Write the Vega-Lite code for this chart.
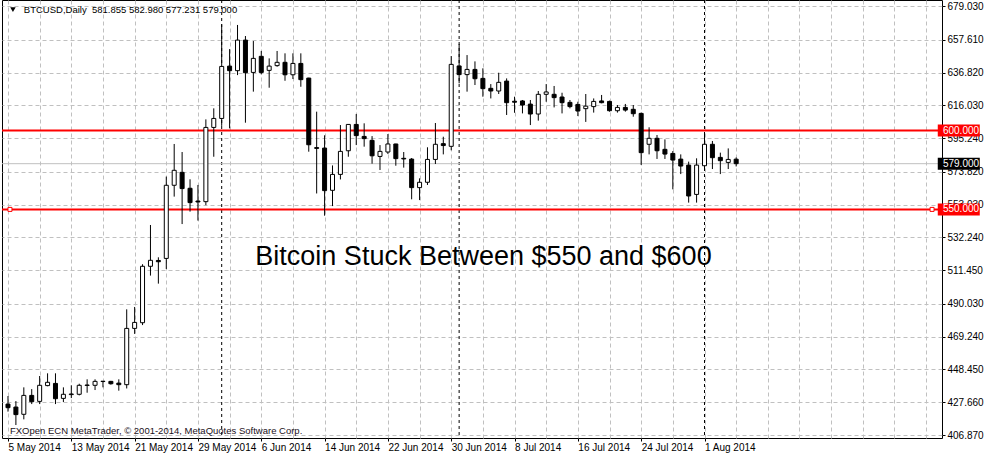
{
  "$schema": "https://vega.github.io/schema/vega-lite/v6.json",
  "width": 940,
  "height": 438,
  "autosize": {"type": "none"},
  "padding": {"left": 2, "top": 0, "right": 43, "bottom": 18},
  "background": "white",
  "config": {
    "view": {"stroke": "black", "strokeWidth": 1},
    "axis": {"labelFont": "Liberation Sans", "labelFontSize": 10, "labelColor": "black", "tickColor": "black", "titleFont": "Liberation Sans"}
  },
  "datasets": {
    "candles": [
      {"date": "2014-05-05", "open": 426.5, "high": 431.6, "low": 421.7, "close": 424.2},
      {"date": "2014-05-06", "open": 424.6, "high": 428.4, "low": 413.2, "close": 419.8},
      {"date": "2014-05-07", "open": 420.0, "high": 437.1, "low": 416.8, "close": 432.0},
      {"date": "2014-05-08", "open": 432.0, "high": 436.0, "low": 426.5, "close": 428.0},
      {"date": "2014-05-09", "open": 428.2, "high": 444.3, "low": 426.5, "close": 438.4},
      {"date": "2014-05-10", "open": 438.2, "high": 446.0, "low": 437.8, "close": 440.3},
      {"date": "2014-05-11", "open": 439.6, "high": 446.0, "low": 426.5, "close": 429.9},
      {"date": "2014-05-12", "open": 430.1, "high": 437.1, "low": 427.8, "close": 432.7},
      {"date": "2014-05-13", "open": 432.5, "high": 438.4, "low": 430.3, "close": 432.9},
      {"date": "2014-05-14", "open": 432.7, "high": 439.4, "low": 432.0, "close": 438.4},
      {"date": "2014-05-15", "open": 438.3, "high": 442.2, "low": 433.7, "close": 438.6},
      {"date": "2014-05-16", "open": 438.4, "high": 442.2, "low": 435.4, "close": 440.9},
      {"date": "2014-05-17", "open": 440.8, "high": 441.1, "low": 437.1, "close": 441.0},
      {"date": "2014-05-18", "open": 440.9, "high": 441.2, "low": 438.8, "close": 439.4},
      {"date": "2014-05-19", "open": 439.8, "high": 442.2, "low": 435.0, "close": 438.8},
      {"date": "2014-05-20", "open": 438.8, "high": 486.6, "low": 436.4, "close": 474.5},
      {"date": "2014-05-21", "open": 474.5, "high": 488.1, "low": 471.0, "close": 478.3},
      {"date": "2014-05-22", "open": 478.1, "high": 515.2, "low": 476.6, "close": 513.9},
      {"date": "2014-05-23", "open": 513.9, "high": 540.1, "low": 508.0, "close": 517.7},
      {"date": "2014-05-24", "open": 517.6, "high": 519.6, "low": 502.9, "close": 516.8},
      {"date": "2014-05-25", "open": 518.9, "high": 570.8, "low": 512.2, "close": 565.3},
      {"date": "2014-05-26", "open": 565.3, "high": 591.5, "low": 558.1, "close": 574.8},
      {"date": "2014-05-27", "open": 573.5, "high": 586.4, "low": 540.7, "close": 563.2},
      {"date": "2014-05-28", "open": 563.4, "high": 569.1, "low": 548.6, "close": 554.3},
      {"date": "2014-05-29", "open": 555.3, "high": 565.5, "low": 542.9, "close": 554.7},
      {"date": "2014-05-30", "open": 554.9, "high": 607.1, "low": 552.7, "close": 602.0},
      {"date": "2014-05-31", "open": 602.0, "high": 614.1, "low": 583.4, "close": 607.7},
      {"date": "2014-06-01", "open": 607.7, "high": 667.4, "low": 603.0, "close": 640.7},
      {"date": "2014-06-02", "open": 640.9, "high": 651.7, "low": 601.4, "close": 638.0},
      {"date": "2014-06-03", "open": 638.0, "high": 667.0, "low": 635.2, "close": 657.4},
      {"date": "2014-06-04", "open": 657.4, "high": 660.0, "low": 605.0, "close": 636.7},
      {"date": "2014-06-05", "open": 636.9, "high": 656.8, "low": 624.7, "close": 645.8},
      {"date": "2014-06-06", "open": 647.1, "high": 650.5, "low": 635.7, "close": 636.9},
      {"date": "2014-06-07", "open": 638.2, "high": 645.8, "low": 627.2, "close": 640.9},
      {"date": "2014-06-08", "open": 641.2, "high": 650.5, "low": 640.5, "close": 643.3},
      {"date": "2014-06-09", "open": 643.3, "high": 649.0, "low": 631.6, "close": 635.4},
      {"date": "2014-06-10", "open": 635.4, "high": 649.0, "low": 632.7, "close": 642.6},
      {"date": "2014-06-11", "open": 642.6, "high": 649.0, "low": 627.8, "close": 632.3},
      {"date": "2014-06-12", "open": 633.3, "high": 633.5, "low": 586.6, "close": 591.0},
      {"date": "2014-06-13", "open": 589.2, "high": 612.0, "low": 560.1, "close": 588.7},
      {"date": "2014-06-14", "open": 588.9, "high": 597.0, "low": 546.0, "close": 561.9},
      {"date": "2014-06-15", "open": 562.1, "high": 577.9, "low": 552.1, "close": 572.2},
      {"date": "2014-06-16", "open": 572.2, "high": 603.5, "low": 569.0, "close": 586.8},
      {"date": "2014-06-17", "open": 587.2, "high": 604.0, "low": 583.4, "close": 603.9},
      {"date": "2014-06-18", "open": 603.9, "high": 610.5, "low": 590.8, "close": 596.8},
      {"date": "2014-06-19", "open": 596.3, "high": 604.6, "low": 589.8, "close": 594.9},
      {"date": "2014-06-20", "open": 593.8, "high": 596.5, "low": 579.0, "close": 584.0},
      {"date": "2014-06-21", "open": 583.6, "high": 590.8, "low": 575.0, "close": 586.8},
      {"date": "2014-06-22", "open": 586.4, "high": 597.8, "low": 585.1, "close": 591.5},
      {"date": "2014-06-23", "open": 591.5, "high": 591.6, "low": 577.7, "close": 582.2},
      {"date": "2014-06-24", "open": 582.4, "high": 586.4, "low": 576.5, "close": 582.0},
      {"date": "2014-06-25", "open": 581.9, "high": 582.6, "low": 556.4, "close": 563.8},
      {"date": "2014-06-26", "open": 563.8, "high": 569.7, "low": 555.9, "close": 567.2},
      {"date": "2014-06-27", "open": 567.2, "high": 589.4, "low": 565.5, "close": 581.7},
      {"date": "2014-06-28", "open": 581.7, "high": 604.8, "low": 578.8, "close": 591.3},
      {"date": "2014-06-29", "open": 591.7, "high": 596.1, "low": 584.9, "close": 590.5},
      {"date": "2014-06-30", "open": 590.0, "high": 647.3, "low": 587.5, "close": 642.0},
      {"date": "2014-07-01", "open": 641.0, "high": 654.9, "low": 630.0, "close": 635.5},
      {"date": "2014-07-02", "open": 635.5, "high": 647.9, "low": 624.7, "close": 638.8},
      {"date": "2014-07-03", "open": 638.8, "high": 643.9, "low": 628.9, "close": 632.9},
      {"date": "2014-07-04", "open": 633.1, "high": 639.5, "low": 621.5, "close": 626.6},
      {"date": "2014-07-05", "open": 626.8, "high": 629.5, "low": 620.4, "close": 625.1},
      {"date": "2014-07-06", "open": 625.1, "high": 636.7, "low": 623.2, "close": 630.6},
      {"date": "2014-07-07", "open": 631.4, "high": 633.1, "low": 609.9, "close": 617.7},
      {"date": "2014-07-08", "open": 618.6, "high": 621.5, "low": 611.3, "close": 618.0},
      {"date": "2014-07-09", "open": 618.8, "high": 619.4, "low": 610.9, "close": 616.2},
      {"date": "2014-07-10", "open": 616.8, "high": 619.4, "low": 603.5, "close": 610.5},
      {"date": "2014-07-11", "open": 610.5, "high": 625.1, "low": 606.3, "close": 623.0},
      {"date": "2014-07-12", "open": 623.0, "high": 629.5, "low": 618.3, "close": 624.5},
      {"date": "2014-07-13", "open": 623.0, "high": 628.3, "low": 614.7, "close": 620.9},
      {"date": "2014-07-14", "open": 621.3, "high": 624.0, "low": 610.9, "close": 617.7},
      {"date": "2014-07-15", "open": 617.9, "high": 619.4, "low": 614.1, "close": 615.2},
      {"date": "2014-07-16", "open": 616.6, "high": 618.3, "low": 609.2, "close": 612.4},
      {"date": "2014-07-17", "open": 613.9, "high": 623.2, "low": 605.5, "close": 615.5},
      {"date": "2014-07-18", "open": 615.2, "high": 620.4, "low": 611.4, "close": 618.5},
      {"date": "2014-07-19", "open": 618.8, "high": 622.6, "low": 617.3, "close": 617.7},
      {"date": "2014-07-20", "open": 618.5, "high": 619.0, "low": 612.0, "close": 612.6},
      {"date": "2014-07-21", "open": 612.6, "high": 616.2, "low": 611.4, "close": 614.7},
      {"date": "2014-07-22", "open": 614.7, "high": 616.9, "low": 612.0, "close": 613.0},
      {"date": "2014-07-23", "open": 613.5, "high": 616.2, "low": 608.8, "close": 610.7},
      {"date": "2014-07-24", "open": 610.9, "high": 611.4, "low": 578.2, "close": 586.0},
      {"date": "2014-07-25", "open": 591.3, "high": 602.1, "low": 584.9, "close": 595.1},
      {"date": "2014-07-26", "open": 595.1, "high": 597.2, "low": 582.0, "close": 587.2},
      {"date": "2014-07-27", "open": 588.1, "high": 594.4, "low": 582.0, "close": 585.1},
      {"date": "2014-07-28", "open": 585.5, "high": 587.0, "low": 562.7, "close": 581.3},
      {"date": "2014-07-29", "open": 581.9, "high": 584.9, "low": 572.4, "close": 577.5},
      {"date": "2014-07-30", "open": 578.1, "high": 580.3, "low": 554.3, "close": 558.5},
      {"date": "2014-07-31", "open": 559.5, "high": 582.4, "low": 554.3, "close": 578.1},
      {"date": "2014-08-01", "open": 577.7, "high": 598.2, "low": 574.5, "close": 591.3},
      {"date": "2014-08-02", "open": 591.3, "high": 593.4, "low": 575.6, "close": 582.8},
      {"date": "2014-08-03", "open": 583.0, "high": 586.0, "low": 572.4, "close": 580.9},
      {"date": "2014-08-04", "open": 579.8, "high": 588.7, "low": 575.6, "close": 581.7},
      {"date": "2014-08-05", "open": 581.855, "high": 582.98, "low": 577.231, "close": 579.0}
    ],
    "levels": [
      {"name": "resistance", "price": 600},
      {"name": "support", "price": 550},
      {"name": "bid", "price": 579}
    ],
    "months": [
      {"date": "2014-06-01"},
      {"date": "2014-07-01"},
      {"date": "2014-08-01"}
    ],
    "one": [{}]
  },
  "resolve": {"axis": {"x": "independent", "y": "independent"}},
  "layer": [
    {
      "data": {"name": "months"},
      "mark": {"type": "rule", "color": "black", "strokeWidth": 1, "strokeDash": [3, 3]},
      "encoding": {
        "x": {"field": "date", "type": "temporal", "scale": {"type": "utc", "domain": [1399237200000, 1409389200000]},
          "axis": {"orient": "bottom", "values": [1399248000000, 1399593600000, 1399939200000, 1400284800000, 1400630400000, 1400976000000, 1401321600000, 1401667200000, 1402012800000, 1402358400000, 1402704000000, 1403049600000, 1403395200000, 1403740800000, 1404086400000, 1404432000000, 1404777600000, 1405123200000, 1405468800000, 1405814400000, 1406160000000, 1406505600000, 1406851200000, 1407196800000, 1407542400000, 1407888000000, 1408233600000, 1408579200000, 1408924800000, 1409270400000],
            "grid": true, "gridColor": "#c0c0c0", "gridDash": [4, 3], "gridWidth": 1, "labels": false, "ticks": false, "domain": false, "title": null}}
      }
    },
    {
      "data": {"name": "levels"},
      "transform": [{"filter": "datum.name === 'bid'"}],
      "mark": {"type": "rule", "color": "#c0c0c0", "strokeWidth": 1},
      "encoding": {
        "y": {"field": "price", "type": "quantitative", "scale": {"domain": [404.97, 682.84], "zero": false, "nice": false}, "axis": null}
      }
    },
    {
      "data": {"name": "levels"},
      "transform": [{"filter": "datum.name !== 'bid'"}],
      "mark": {"type": "rule", "color": "#ff0000", "strokeWidth": 2},
      "encoding": {
        "y": {"field": "price", "type": "quantitative", "scale": {"domain": [404.97, 682.84], "zero": false, "nice": false}, "axis": null}
      }
    },
    {
      "data": {"name": "candles"},
      "mark": {"type": "rule", "color": "black", "strokeWidth": 1},
      "encoding": {
        "x": {"field": "date", "type": "temporal", "scale": {"type": "utc", "domain": [1399237200000, 1409389200000]}, "axis": null},
        "y": {"field": "low", "type": "quantitative", "scale": {"domain": [404.97, 682.84], "zero": false, "nice": false}, "axis": null},
        "y2": {"field": "high"}
      }
    },
    {
      "data": {"name": "candles"},
      "mark": {"type": "bar", "size": 4, "stroke": "black", "strokeWidth": 1, "opacity": 1},
      "encoding": {
        "x": {"field": "date", "type": "temporal", "scale": {"type": "utc", "domain": [1399237200000, 1409389200000]},
          "axis": {"orient": "bottom", "values": [1399248000000, 1399939200000, 1400630400000, 1401321600000, 1402012800000, 1402704000000, 1403395200000, 1404086400000, 1404777600000, 1405468800000, 1406160000000, 1406851200000],
            "labelExpr": "utcFormat(datum.value, '%-d %b %Y')", "labelAlign": "left", "labelPadding": 1, "tickSize": 3, "grid": false, "domain": false, "labelOverlap": false, "labelFlush": false, "title": null}},
        "y": {"field": "open", "type": "quantitative", "scale": {"domain": [404.97, 682.84], "zero": false, "nice": false},
          "axis": {"orient": "right", "values": [679.03, 657.61, 636.82, 616.03, 595.24, 573.82, 553.03, 532.24, 511.45, 490.03, 469.24, 448.45, 427.66, 406.87],
            "format": ".3f", "grid": true, "gridColor": "#c0c0c0", "gridDash": [4, 3], "gridWidth": 1, "domain": false, "tickSize": 3, "labelAlign": "left", "labelBaseline": "middle", "labelPadding": 2, "labelOverlap": false, "labelFlush": false, "title": null}},
        "y2": {"field": "close"},
        "fill": {"condition": {"test": "datum.close > datum.open", "value": "white"}, "value": "black"}
      }
    },
    {
      "data": {"name": "levels"},
      "transform": [{"filter": "datum.name === 'support'"}],
      "mark": {"type": "point", "shape": "square", "size": 16, "filled": true, "fill": "white", "stroke": "#ff0000", "strokeWidth": 1, "opacity": 1},
      "encoding": {
        "x": {"datum": {"year": 2014, "month": 5, "date": 5, "hours": 6, "utc": true}, "type": "temporal", "scale": {"type": "utc", "domain": [1399237200000, 1409389200000]}, "axis": null},
        "y": {"field": "price", "type": "quantitative", "scale": {"domain": [404.97, 682.84], "zero": false, "nice": false}, "axis": null}
      }
    },
    {
      "data": {"name": "levels"},
      "transform": [{"filter": "datum.name === 'support'"}],
      "mark": {"type": "point", "shape": "square", "size": 16, "filled": true, "fill": "white", "stroke": "#ff0000", "strokeWidth": 1, "opacity": 1},
      "encoding": {
        "x": {"datum": {"year": 2014, "month": 8, "date": 29, "hours": 18, "utc": true}, "type": "temporal", "scale": {"type": "utc", "domain": [1399237200000, 1409389200000]}, "axis": null},
        "y": {"field": "price", "type": "quantitative", "scale": {"domain": [404.97, 682.84], "zero": false, "nice": false}, "axis": null}
      }
    },
    {
      "data": {"name": "levels"},
      "mark": {"type": "point", "shape": "M-3.5,-1H3.5V1H-3.5Z", "size": 144, "filled": true, "opacity": 1, "strokeWidth": 0},
      "encoding": {
        "x": {"datum": {"year": 2014, "month": 9, "date": 2, "hours": 3, "utc": true}, "type": "temporal", "scale": {"type": "utc", "domain": [1399237200000, 1409389200000]}, "axis": null},
        "y": {"field": "price", "type": "quantitative", "scale": {"domain": [404.97, 682.84], "zero": false, "nice": false}, "axis": null},
        "fill": {"condition": {"test": "datum.name === 'bid'", "value": "black"}, "value": "#ff0000"}
      }
    },
    {
      "data": {"name": "levels"},
      "mark": {"type": "text", "align": "left", "baseline": "middle", "color": "white", "font": "Liberation Sans", "fontSize": 10},
      "encoding": {
        "x": {"datum": {"year": 2014, "month": 8, "date": 31, "hours": 3, "utc": true}, "type": "temporal", "scale": {"type": "utc", "domain": [1399237200000, 1409389200000]}, "axis": null},
        "y": {"field": "price", "type": "quantitative", "scale": {"domain": [404.97, 682.84], "zero": false, "nice": false}, "axis": null},
        "text": {"field": "price", "type": "quantitative", "format": ".3f"}
      }
    },
    {
      "data": {"name": "one"},
      "mark": {"type": "point", "shape": "triangle-down", "size": 30, "filled": true, "color": "black", "opacity": 1},
      "encoding": {
        "x": {"datum": {"year": 2014, "month": 5, "date": 5, "hours": 15, "utc": true}, "type": "temporal", "scale": {"type": "utc", "domain": [1399237200000, 1409389200000]}, "axis": null},
        "y": {"datum": 676.8, "type": "quantitative", "scale": {"domain": [404.97, 682.84], "zero": false, "nice": false}, "axis": null}
      }
    },
    {
      "data": {"name": "one"},
      "mark": {"type": "text", "align": "left", "baseline": "middle", "color": "black", "font": "Liberation Sans", "fontSize": 9.5, "text": "BTCUSD,Daily\u00a0\u00a0581.855 582.980 577.231 579.000"},
      "encoding": {
        "x": {"datum": {"year": 2014, "month": 5, "date": 7, "hours": 0, "utc": true}, "type": "temporal", "scale": {"type": "utc", "domain": [1399237200000, 1409389200000]}, "axis": null},
        "y": {"datum": 676.5, "type": "quantitative", "scale": {"domain": [404.97, 682.84], "zero": false, "nice": false}, "axis": null}
      }
    },
    {
      "data": {"name": "one"},
      "mark": {"type": "text", "align": "left", "baseline": "middle", "color": "#1a1020", "font": "Liberation Sans", "fontSize": 9.5, "text": "FXOpen ECN MetaTrader, © 2001-2014, MetaQuotes Software Corp."},
      "encoding": {
        "x": {"datum": {"year": 2014, "month": 5, "date": 5, "hours": 6, "utc": true}, "type": "temporal", "scale": {"type": "utc", "domain": [1399237200000, 1409389200000]}, "axis": null},
        "y": {"datum": 409.4, "type": "quantitative", "scale": {"domain": [404.97, 682.84], "zero": false, "nice": false}, "axis": null}
      }
    },
    {
      "data": {"name": "one"},
      "mark": {"type": "text", "align": "left", "baseline": "alphabetic", "color": "black", "font": "Liberation Sans", "fontSize": 27, "text": "Bitcoin Stuck Between $550 and $600"},
      "encoding": {
        "x": {"datum": {"year": 2014, "month": 6, "date": 5, "hours": 6, "utc": true}, "type": "temporal", "scale": {"type": "utc", "domain": [1399237200000, 1409389200000]}, "axis": null},
        "y": {"datum": 514.5, "type": "quantitative", "scale": {"domain": [404.97, 682.84], "zero": false, "nice": false}, "axis": null}
      }
    }
  ]
}
